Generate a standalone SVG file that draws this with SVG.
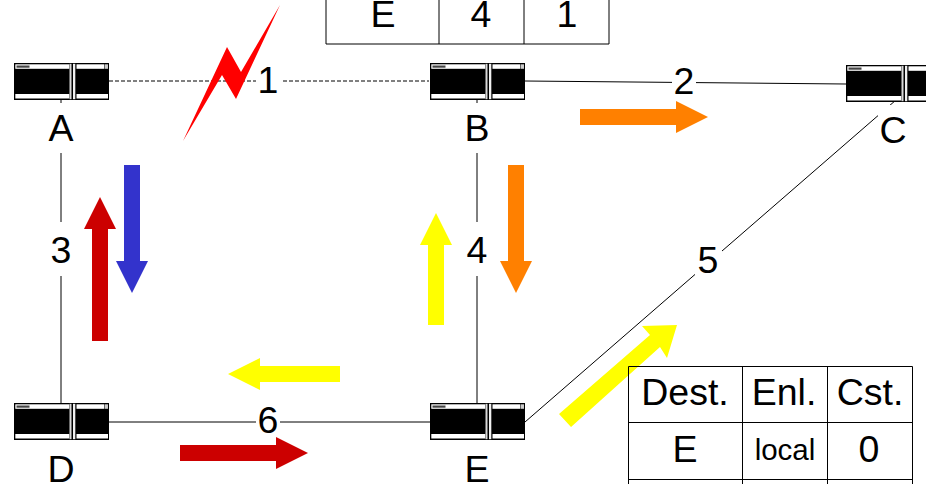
<svg xmlns="http://www.w3.org/2000/svg" xmlns:xlink="http://www.w3.org/1999/xlink" width="926" height="484" viewBox="0 0 926 484">
<style>
text{font-family:"Liberation Sans",Arial,sans-serif;font-size:37.500px;fill:#000;text-anchor:middle}
.sm{font-size:29.500px}
.ln{stroke:#000;stroke-width:1;fill:none}
.tb{stroke:#000;stroke-width:1;fill:none}
.bg{fill:#fff}
.or{fill:#ff8000}.ye{fill:#ffff00}.re{fill:#cc0000}.bl{fill:#3333cc}
</style>
<defs>
<g id="router">
<rect x="0" y="0" width="95" height="37" fill="#000"/>
<rect x="1.300" y="1.300" width="54" height="4.500" fill="#fff"/>
<rect x="62.500" y="1.300" width="27.500" height="4.500" fill="#fff"/>
<rect x="90.500" y="1.300" width="3.500" height="4.500" fill="#ccc"/>
<rect x="1.300" y="31" width="54" height="4.500" fill="#fff"/>
<rect x="62.500" y="31" width="31.500" height="4.500" fill="#fff"/>
<rect x="2.500" y="2.500" width="13" height="2.200" fill="#444"/>
<rect x="55.500" y="0.800" width="2" height="35.400" fill="#d8d8d8"/>
<rect x="59" y="0.800" width="2.300" height="35.400" fill="#f0f0f0"/>
</g>
<polygon id="arrow" points="0,-8 96,-8 96,-16 128,0 96,16 96,8 0,8"/>
</defs>
<g id="connectors">
<line class="ln" x1="109" y1="81" x2="429" y2="81" stroke-dasharray="4 2"/>
<line class="ln" x1="525" y1="81" x2="846" y2="84"/>
<line class="ln" x1="61" y1="99" x2="61" y2="404"/>
<line class="ln" x1="477" y1="99" x2="477" y2="404"/>
<line class="ln" x1="525" y1="422" x2="896" y2="100"/>
<line class="ln" x1="108" y1="422" x2="430" y2="422"/>
</g>
<g id="link-labels">
<rect class="bg" x="256" y="62" width="26" height="38"/><text x="268" y="93">1</text>
<rect class="bg" x="672" y="66" width="24" height="30"/><text x="684" y="94">2</text>
<rect class="bg" x="48" y="222" width="26" height="54"/><text x="61" y="263">3</text>
<rect class="bg" x="464" y="222" width="26" height="54"/><text x="477" y="263">4</text>
<rect class="bg" x="695" y="240" width="27" height="40"/><text x="708" y="273">5</text>
<rect class="bg" x="256" y="404" width="24" height="34"/><text x="268" y="433">6</text>
</g>
<g id="node-A"><rect class="bg" x="46" y="103" width="30" height="50"/><use xlink:href="#router" href="#router" x="14" y="63"/><text x="61" y="141">A</text></g>
<g id="node-B"><rect class="bg" x="462" y="103" width="30" height="50"/><use xlink:href="#router" href="#router" x="430" y="63"/><text x="477" y="141">B</text></g>
<g id="node-C"><rect class="bg" x="878" y="105" width="30" height="48"/><use xlink:href="#router" href="#router" x="846" y="65"/><text x="893" y="143">C</text></g>
<g id="node-D"><use xlink:href="#router" href="#router" x="14" y="403"/><text x="61" y="482">D</text></g>
<g id="node-E"><use xlink:href="#router" href="#router" x="430" y="403"/><text x="477" y="482">E</text></g>
<g id="failure"><polygon points="280,5 236,99 222,75 183,141 227,47 241,72" fill="#ff0000"/></g>
<g id="flows">
<use xlink:href="#arrow" href="#arrow" class="or" transform="translate(580,117)"/>
<use xlink:href="#arrow" href="#arrow" class="or" transform="translate(516,165) rotate(90)"/>
<use xlink:href="#arrow" href="#arrow" class="bl" transform="translate(132,165) rotate(90)"/>
<polygon class="re" points="92,341 92,229 84,229 100,197 116,229 108,229 108,341"/>
<polygon class="ye" points="428,325 428,245 420,245 436,213 452,245 444,245 444,325"/>
<polygon class="ye" points="340,366 260,366 260,358 228,374 260,390 260,382 340,382"/>
<use xlink:href="#arrow" href="#arrow" class="re" transform="translate(180,453)"/>
<polygon class="ye" points="571,427 559,414 650,335 642,326 677,325 667,358 660,347"/>
</g>
<g id="table-top">
<path class="tb" d="M326,0V44H609V0M439,0V44M524,0V44"/>
<text x="383" y="27">E</text><text x="481" y="27">4</text><text x="567" y="27">1</text>
</g>
<g id="table-bottom">
<path class="tb" d="M628.500,484V366.500H912.500V484M742.500,366V484M827.500,366V484M628,422.500H913M628,479.500H913"/>
<text x="685" y="405">Dest.</text><text x="784" y="405">Enl.</text><text x="870" y="405">Cst.</text>
<text x="685" y="462">E</text><text class="sm" x="785" y="460">local</text><text x="869" y="462">0</text>
</g>
</svg>
